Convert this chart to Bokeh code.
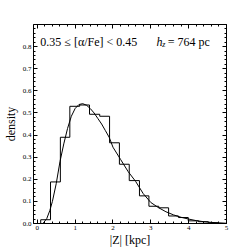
from bokeh.plotting import figure
from bokeh.models import LinearAxis, FixedTicker, Range1d, Label
from bokeh.embed import file_html
from bokeh.resources import INLINE
import numpy as np

# histogram of |Z| (bin edges in kpc, normalised density)
bin_edges = [0.09, 0.35, 0.61, 0.86, 1.12, 1.38, 1.65, 1.91, 2.17, 2.43,
             2.70, 2.95, 3.21, 3.47, 3.73, 3.99, 4.26, 4.52, 4.78]
hist_density = [0.017, 0.188, 0.390, 0.530, 0.536, 0.494, 0.485, 0.365, 0.268,
                0.194, 0.125, 0.078, 0.071, 0.034, 0.027, 0.012, 0.008, 0.003]

# fitted model curve
model_z = [0.15, 0.25, 0.33, 0.4, 0.5, 0.6, 0.7, 0.8, 0.9, 1.0, 1.1, 1.2, 1.3,
           1.4, 1.5, 1.6, 1.7, 1.8, 1.9, 2.0, 2.2, 2.4, 2.6, 2.8, 3.0, 3.2,
           3.4, 3.6, 3.8, 4.0, 4.2, 4.4, 4.6, 4.8, 5.0]
model_density = [0.0, 0.022, 0.058, 0.10, 0.18, 0.28, 0.36, 0.43, 0.485, 0.52,
                 0.538, 0.542, 0.535, 0.52, 0.50, 0.475, 0.45, 0.42, 0.39, 0.345,
                 0.29, 0.235, 0.19, 0.135, 0.095, 0.072, 0.053, 0.039, 0.028,
                 0.02, 0.013, 0.008, 0.005, 0.003, 0.001]

x_ticks = [0, 1, 2, 3, 4, 5]
x_tick_labels = ["0", "1", "2", "3", "4", "5"]
y_ticks = [0.0, 0.1, 0.2, 0.3, 0.4, 0.5, 0.6, 0.7, 0.8]
y_tick_labels = ["0.0", "0.1", "0.2", "0.3", "0.4", "0.5", "0.6", "0.7", "0.8"]

title_left = "0.35 \u2264 [\u03b1/Fe] < 0.45"
scale_height_text = "= 764 pc"

FONT = "Liberation Serif"

p = figure(frame_width=193, frame_height=199, output_backend="svg",
           toolbar_location=None,
           x_range=Range1d(-0.1, 5.0), y_range=Range1d(0.0, 0.9),
           min_border_left=23, min_border_right=9, min_border_top=24,
           min_border_bottom=0)
p.grid.visible = False
p.outline_line_color = "black"
p.outline_line_width = 1

# histogram as step outline
xs = [bin_edges[0]] + list(bin_edges)
ys = [0.0] + list(hist_density) + [0.0]
p.step(xs, ys, mode="after", line_color="black", line_width=1)

# model curve
p.line(model_z, model_density, line_color="black", line_width=1)

x_minor = [round(v, 2) for v in np.arange(0.0, 5.01, 0.2)]
y_minor = [round(v, 3) for v in np.arange(0.0, 0.901, 0.02)]

def style(ax, ticks, minor, labels):
    ax.ticker = FixedTicker(ticks=ticks, minor_ticks=minor)
    ax.major_tick_in = 4
    ax.major_tick_out = 0
    ax.minor_tick_in = 2
    ax.minor_tick_out = 0
    ax.axis_line_color = None
    ax.major_tick_line_color = "black"
    ax.minor_tick_line_color = "black"
    ax.major_label_text_font = FONT
    ax.major_label_text_font_size = "7px"
    ax.major_label_text_color = "black"
    ax.major_label_standoff = 2
    ax.axis_label_text_font = FONT
    ax.axis_label_text_font_style = "normal"
    ax.axis_label_text_color = "black"
    ax.major_label_overrides = {t: l for t, l in zip(ticks, labels)}

style(p.xaxis[0], x_ticks, x_minor, x_tick_labels)
style(p.yaxis[0], y_ticks, y_minor, y_tick_labels)
p.xaxis[0].axis_label = "|Z| [kpc]"
p.xaxis[0].axis_label_text_font_size = "12px"
p.xaxis[0].axis_label_standoff = 0
p.yaxis[0].axis_label = "density"
p.yaxis[0].axis_label_text_font_size = "12px"
p.yaxis[0].axis_label_standoff = 2

top = LinearAxis()
style(top, x_ticks, x_minor, [""] * len(x_ticks))
top.major_label_standoff = 0
p.add_layout(top, "above")
right = LinearAxis()
style(right, y_ticks, y_minor, [""] * len(y_ticks))
right.major_label_standoff = 0
p.add_layout(right, "right")

p.add_layout(Label(x=0.08, y=0.82, text=title_left, text_font=FONT,
                   text_color="black", text_font_size="12px",
                   text_baseline="middle"))
p.add_layout(Label(x=3.15, y=0.82, text="h", text_font=FONT,
                   text_font_style="italic", text_color="black",
                   text_font_size="12px", text_baseline="middle"))
p.add_layout(Label(x=3.3, y=0.808, text="z", text_font=FONT,
                   text_font_style="italic", text_color="black",
                   text_font_size="8px", text_baseline="middle"))
p.add_layout(Label(x=3.45, y=0.82, text=scale_height_text, text_font=FONT,
                   text_color="black", text_font_size="12px",
                   text_baseline="middle"))

open("out.html", "w").write(file_html(p, INLINE))
